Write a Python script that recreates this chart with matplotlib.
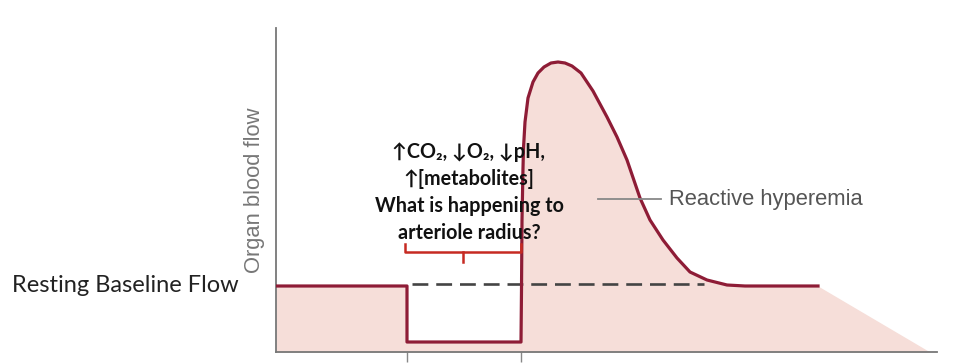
import matplotlib.pyplot as plt
import numpy as np

# axes units: x = time (pixel-like units), y = flow
baseline = 66
occluded = 10
occl_start, occl_end = 131, 245

# reactive hyperemia curve
curve_x = [245, 245.5, 246, 247, 247.5, 249, 252, 257, 262, 268, 275, 282, 289, 296, 305,
           317, 331, 341, 351, 364, 374, 387, 401, 414, 431, 451, 469, 542]
curve_y = [10, 62, 132, 184, 204, 230, 254, 270, 279, 285, 289, 290, 289, 286, 279,
           261, 235, 215, 192, 154, 132, 112, 94, 80, 72, 67, 66, 66]
tail_end = 654

line_x = [0, occl_start, occl_start, occl_end] + curve_x
line_y = [baseline, baseline, occluded, occluded] + curve_y
fill_x = line_x + [tail_end]
fill_y = line_y + [0]

dash_x = [136, 428]
dash_y = [68, 68]

bracket_x = [occl_start - 2, occl_end]
bracket_y = 100

note_lines = ['↑CO₂, ↓O₂, ↓pH,', '↑[metabolites]', 'What is happening to', 'arteriole radius?']

fig = plt.figure(figsize=(9.7, 3.64), dpi=100)
ax = fig.add_axes([276/970, 12/364, 661/970, 324/364])
ax.set_xlim(0, 661)
ax.set_ylim(0, 324)

red_dark = '#8e1c36'
pink = '#f6ded9'

ax.fill_between(fill_x, fill_y, 0, color=pink, lw=0, zorder=1)
ax.plot(line_x, line_y, color=red_dark, lw=2.3, solid_joinstyle='round', zorder=3)
ax.plot(dash_x, dash_y, color='#444444', lw=1.9, dashes=(6, 3), zorder=2)

# bracket
bc = '#c62a22'
mid = (bracket_x[0] + bracket_x[1]) / 2
ax.plot([bracket_x[0], bracket_x[0], bracket_x[1], bracket_x[1]],
        [bracket_y + 8, bracket_y, bracket_y, bracket_y + 8], color=bc, lw=1.8, zorder=4)
ax.plot([mid, mid], [bracket_y, bracket_y - 10], color=bc, lw=1.8, zorder=4)

for i, t in enumerate(note_lines):
    ax.text(193, 200 - i*27, t, ha='center', va='center', fontsize=14.2,
            fontweight='bold', family=['Lato', 'DejaVu Sans'], color='#111111', zorder=5)

# reactive hyperemia label
ax.plot([322, 385], [153, 153], color='#888888', lw=1.3, zorder=4)
ax.text(393, 153, 'Reactive hyperemia', ha='left', va='center', fontsize=15.8,
        family='Liberation Sans', color='#555555')

ax.set_ylabel('Organ blood flow', fontsize=15.8, family='Liberation Sans', color='#777777')
ax.yaxis.set_label_coords(-0.017, 0.5)
fig.text(12/970, 1 - 286/364, 'Resting Baseline Flow', ha='left', va='center',
         fontsize=17, family='Lato', color='#222222')

for s in ['top', 'right']:
    ax.spines[s].set_visible(False)
for s in ['left', 'bottom']:
    ax.spines[s].set_color('#777777')
    ax.spines[s].set_linewidth(1.3)
ax.set_yticks([])
ax.set_xticks([occl_start, occl_end])
ax.set_xticklabels([])
ax.tick_params(axis='x', length=7, width=1, color='#888888')

fig.savefig('out.png', dpi=100)
